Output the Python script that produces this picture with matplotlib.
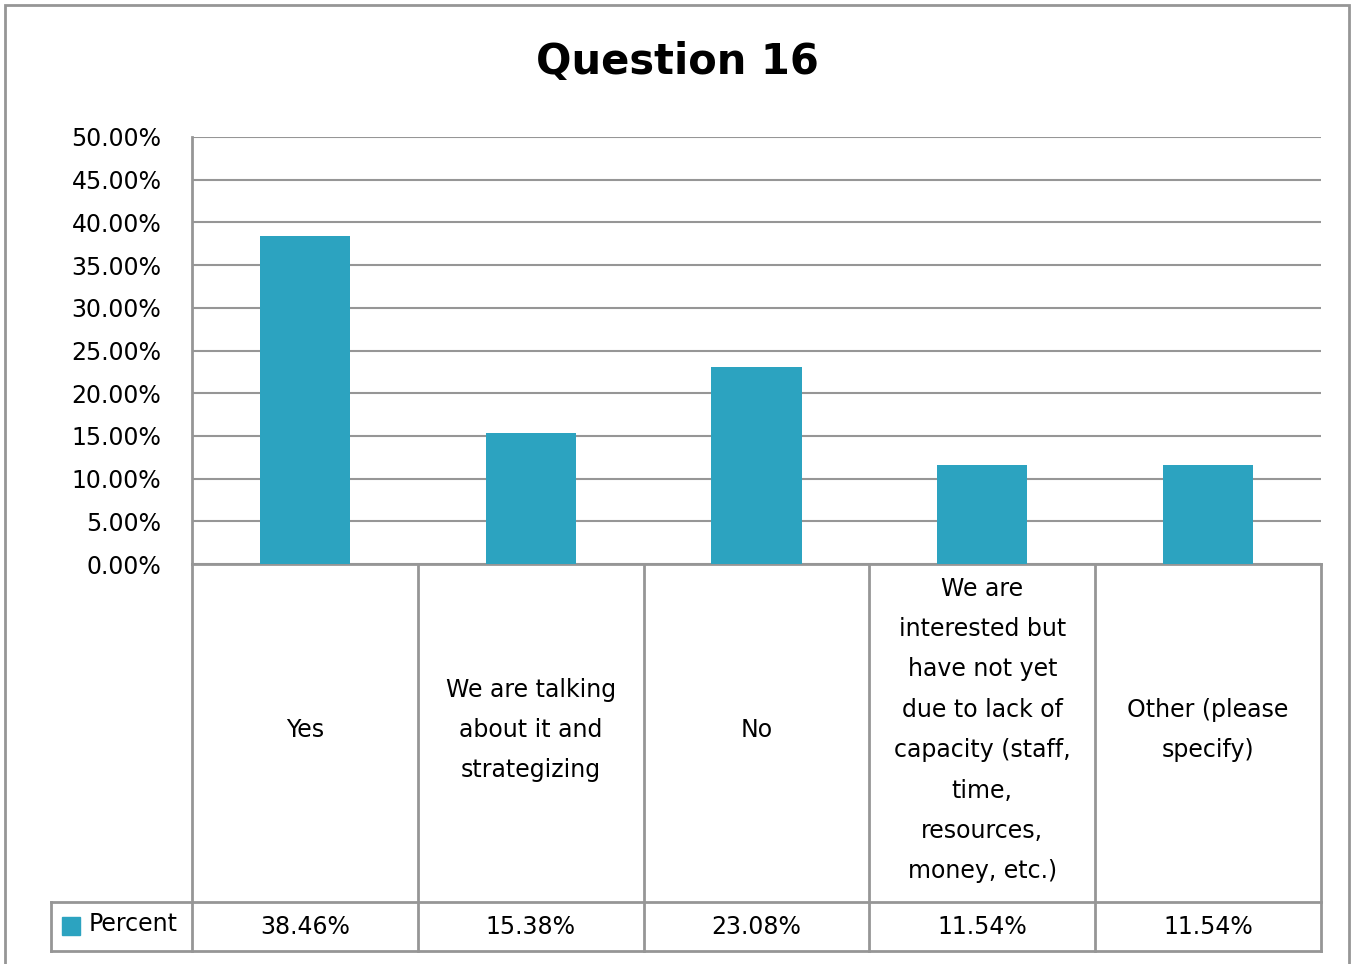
import matplotlib.pyplot as plt
from matplotlib.patches import Rectangle

categories = ["Yes",
              "We are talking\nabout it and\nstrategizing",
              "No",
              "We are\ninterested but\nhave not yet\ndue to lack of\ncapacity (staff,\ntime,\nresources,\nmoney, etc.)",
              "Other (please\nspecify)"]
percent = [38.46, 15.38, 23.08, 11.54, 11.54]
series_name = "Percent"
yticks = [0, 5, 10, 15, 20, 25, 30, 35, 40, 45, 50]

bar_color = "#2ca3c0"
line_color = "#969696"
plt.rcParams['font.family'] = ['DejaVu Sans']

fig = plt.figure(figsize=(13.53, 9.64), dpi=100)
W, H = 1353, 964
ax = fig.add_axes([192 / W, 1 - 564 / H, 1129 / W, 427 / H])

x = list(range(len(categories)))
ax.bar(x, percent, width=0.4, color=bar_color, zorder=3)
ax.set_xlim(-0.5, len(categories) - 0.5)
ax.set_ylim(0, 50)
ax.set_yticks(yticks)
ax.set_yticklabels(["%.2f%%" % v for v in yticks], fontsize=17)
ax.tick_params(axis='y', length=0, pad=22)
ax.set_xticks([])
ax.grid(axis='y', color=line_color, linewidth=1.5, zorder=0)
for s in ['top', 'right']:
    ax.spines[s].set_visible(False)
for s in ['left', 'bottom']:
    ax.spines[s].set_color(line_color)
    ax.spines[s].set_linewidth(2)

# data table below the axes
tr = ax.get_xaxis_transform()
row1 = -338 / 427
row2 = -387 / 427
leg_left = -0.5 - 141 / 225.8
lk = dict(color=line_color, linewidth=2, transform=tr, clip_on=False)
ax.plot([leg_left, len(categories) - 0.5], [row1, row1], **lk)
ax.plot([leg_left, len(categories) - 0.5], [row2, row2], **lk)
ax.plot([leg_left, leg_left], [row1, row2], **lk)
for i in range(len(categories) + 1):
    ax.plot([i - 0.5, i - 0.5], [0, row2], **lk)

for i, (c, v) in enumerate(zip(categories, percent)):
    ax.text(i, row1 / 2 + 3 / 427, c, transform=tr, ha='center', va='center',
            fontsize=17, linespacing=1.86)
    ax.text(i, (row1 + row2) / 2, "%.2f%%" % v, transform=tr,
            ha='center', va='center', fontsize=17)

fig.patches.append(Rectangle((62 / W, 1 - 935 / H), 18 / W, 18 / H,
                             transform=fig.transFigure, color=bar_color))
fig.text(89 / W, 1 - 924 / H, series_name, ha='left', va='center', fontsize=17)

fig.text(677 / W, 1 - 62 / H, "Question 16", ha='center', va='center',
         fontsize=30, fontweight='bold')

fig.patches.append(Rectangle((5 / W, -0.05), 1344 / W, 1.05 - 5 / H,
                             transform=fig.transFigure, fill=False,
                             edgecolor=line_color, linewidth=2))

fig.savefig("out.png", dpi=100)
